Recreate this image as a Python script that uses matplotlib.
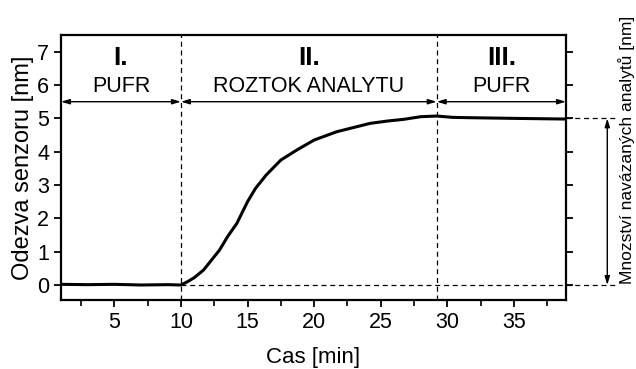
import numpy as np
import matplotlib.pyplot as plt
from matplotlib.ticker import MultipleLocator

plt.rcParams['font.family'] = ['Liberation Sans', 'DejaVu Sans']

# response curve
cas = [1, 3, 5, 7, 9, 10, 10.5, 11, 11.7, 12.9, 13.5, 14.2, 15, 15.6, 16.4, 17.5, 18.7,
       20, 21.7, 23, 24.2, 25.5, 26.7, 28, 29.2, 30.4, 31.7, 35, 38.9]
odezva = [0.02, 0.01, 0.02, 0.0, 0.01, 0.0, 0.1, 0.22, 0.45, 1.05, 1.45, 1.85, 2.5, 2.9,
          3.3, 3.75, 4.05, 4.35, 4.6, 4.73, 4.85, 4.92, 4.97, 5.05, 5.07, 5.03, 5.02, 5.0, 4.98]

# phase boundaries and labels
hranice = [1, 10, 29.2, 38.9]
faze = ['I.', 'II.', 'III.']
roztoky = ['PUFR', 'ROZTOK ANALYTU', 'PUFR']
plato = 5.0

fig = plt.figure(figsize=(6.36, 3.69), dpi=100)
ax = fig.add_axes([0.0959, 0.187, 0.794, 0.718])

ax.plot(cas, odezva, color='black', lw=2.2, zorder=3)

# dashed guides
for xv in hranice[1:3]:
    ax.axvline(xv, color='black', lw=0.9, ls=(0, (4, 3)))
ax.plot([10, 42.6], [0, 0], color='black', lw=0.9, ls=(0, (4, 3)), clip_on=False)
ax.plot([38.9, 42.6], [plato, plato], color='black', lw=0.9, ls=(0, (4, 3)), clip_on=False)

# phase arrows and labels
for i in range(3):
    ax.annotate('', xy=(hranice[i], 5.5), xytext=(hranice[i + 1], 5.5),
                arrowprops=dict(arrowstyle='<|-|>,head_length=0.5,head_width=0.15',
                                color='black', lw=1.0, shrinkA=0, shrinkB=0))
    xm = (hranice[i] + hranice[i + 1]) / 2
    ax.text(xm, 6.8, faze[i], ha='center', va='center', fontsize=19, fontweight='bold')
    ax.text(xm, 5.95, roztoky[i], ha='center', va='center', fontsize=15.5)

# amount of bound analyte arrow
ax.annotate('', xy=(42.0, plato), xytext=(42.0, 0),
            arrowprops=dict(arrowstyle='<|-|>,head_length=0.5,head_width=0.15',
                            color='black', lw=1.0, shrinkA=0, shrinkB=0),
            annotation_clip=False)
fig.text(627 / 636, 1 - 150 / 369, 'Mnozství navázaných analytů [nm]', rotation=90,
         ha='center', va='center', fontsize=12.5)

ax.set_xlim(1, 38.9)
ax.set_ylim(-0.45, 7.5)
ax.xaxis.set_major_locator(MultipleLocator(5))
ax.xaxis.set_minor_locator(MultipleLocator(2.5))
ax.set_yticks(range(0, 8))
ax.tick_params(axis='both', which='major', labelsize=15.5, width=1.3, length=5, direction='out')
ax.tick_params(axis='x', which='minor', width=1.2, length=4, direction='out')
ax.tick_params(axis='y', right=True, labelright=False)
for s in ax.spines.values():
    s.set_linewidth(1.6)

ax.set_xlabel('Cas [min]', fontsize=16, labelpad=10)
ax.set_ylabel('Odezva senzoru [nm]', fontsize=17, labelpad=2)

fig.savefig('out.png', dpi=100)
